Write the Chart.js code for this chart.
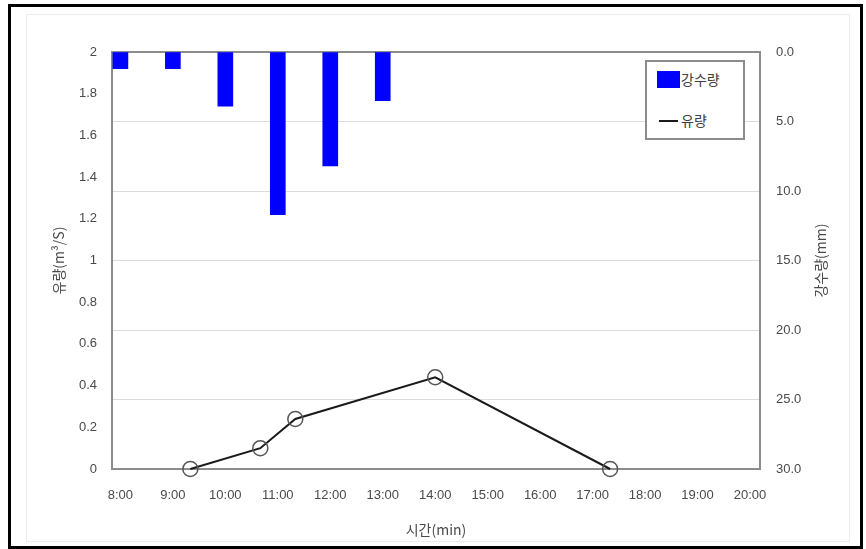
<!DOCTYPE html>
<html>
<head>
<meta charset="utf-8">
<script src="https://cdn.jsdelivr.net/npm/chart.js@4.4.0/dist/chart.umd.min.js"></script>
<style>
  body { margin: 0; background: #fff; }
  #wrap { position: relative; width: 866px; height: 549px; }
  #frame { position: absolute; left: 8px; top: 4px; width: 849px; height: 539px; border: 3px solid #000; pointer-events: none; }
  #inner { position: absolute; left: 26px; top: 14px; width: 822px; height: 526px; border: 1px solid #ececec; pointer-events: none; }
  #legend { position: absolute; left: 645px; top: 60px; width: 96px; height: 76px; border: 2px solid #8c8c8c;
            font-family: "Noto Sans CJK KR", sans-serif; font-size: 14px; color: #404040; background: #fff; }
  .row { position: absolute; left: 10px; height: 18px; line-height: 18px; }
  .sw { position: absolute; left: 0; top: 0; width: 23px; height: 17px; background: #0000ff; }
  .ln { position: absolute; left: 2px; top: 8px; width: 19px; height: 2px; background: #1a1a1a; }
  .lb { position: absolute; left: 24px; top: -1px; white-space: nowrap; }
</style>
</head>
<body>
<div id="wrap">
  <canvas id="canvas" width="866" height="549"></canvas>
  <div id="inner"></div>
  <div id="legend">
    <div class="row" style="top:9px"><div class="sw"></div><div class="lb">강수량</div></div>
    <div class="row" style="top:50px"><div class="ln"></div><div class="lb">유량</div></div>
  </div>
  <div id="frame"></div>
</div>
<script>
// 시간 축 눈금
const xTickLabels = ["8:00","9:00","10:00","11:00","12:00","13:00","14:00","15:00","16:00","17:00","18:00","19:00","20:00"];
// 강수량 (mm)
const rainTimes = ["8:00","9:00","10:00","11:00","12:00","13:00"];
const rainValues = [1.2, 1.2, 3.9, 11.7, 8.2, 3.5];
// 유량 (m3/s)
const flowTimes = ["9:20","10:40","11:20","14:00","17:20"];
const flowValues = [0, 0.1, 0.24, 0.44, 0];

function aHoras(t){
    //"10:40" -> 10.667
    let p = t.split(":");
    return parseInt(p[0]) + parseInt(p[1]) / 60;
}

const tickFont = {family: "'Liberation Sans', sans-serif", size: 13};
const tituloFont = {family: "'Noto Sans CJK KR', sans-serif", size: 14};
const gris = "#4a4a4a";

// borde del area del grafico + titulo del eje derecho (de abajo hacia arriba)
const extras = {
    id: "extras",
    beforeDatasetsDraw(chart){
        const {ctx, chartArea: a} = chart;
        ctx.save();
        ctx.strokeStyle = "#8c8c8c";
        ctx.lineWidth = 2;
        ctx.strokeRect(a.left, a.top, a.right - a.left, a.bottom - a.top);
        ctx.restore();
    },
    afterDraw(chart){
        const {ctx, chartArea: a} = chart;
        ctx.save();
        ctx.translate(821, (a.top + a.bottom) / 2);
        ctx.rotate(-Math.PI / 2);
        ctx.font = "14px 'Noto Sans CJK KR', sans-serif";
        ctx.fillStyle = gris;
        ctx.textAlign = "center";
        ctx.textBaseline = "middle";
        ctx.fillText("강수량(mm)", 0, 0);
        ctx.restore();
    }
};

let data = {
    datasets: [{
        type: "line",
        label: "유량",
        data: flowTimes.map((t, i) => ({x: aHoras(t), y: flowValues[i]})),
        yAxisID: "y",
        borderColor: "#1a1a1a",
        borderWidth: 2,
        pointRadius: 7.5,
        pointBorderColor: "#555",
        pointBorderWidth: 1.5,
        pointBackgroundColor: "rgba(0,0,0,0)",
        tension: 0,
        clip: false,
        order: 0
    }, {
        type: "bar",
        label: "강수량",
        data: rainTimes.map((t, i) => ({x: aHoras(t), y: rainValues[i]})),
        yAxisID: "y2",
        backgroundColor: "#0000ff",
        barThickness: 15,
        order: 1
    }]
};

let options = {
    responsive: false,
    animation: false,
    layout: {padding: {top: 52, left: 0, right: 0, bottom: 0}},
    plugins: {legend: {display: false}, tooltip: {enabled: false}},
    scales: {
        x: {
            type: "linear",
            offset: false,
            min: 7.84,
            max: 20.19,
            afterBuildTicks: s => { s.ticks = xTickLabels.map(aHoras).map(v => ({value: v})); },
            afterFit: s => { s.height = 80; },
            ticks: {
                callback: (v, i) => xTickLabels[i],
                font: tickFont, color: gris, padding: 19, maxRotation: 0, autoSkip: false
            },
            grid: {display: false, drawTicks: false},
            border: {display: false},
            title: {display: true, text: "시간(min)", font: tituloFont, color: gris, padding: {top: 0, bottom: 11}}
        },
        y: {
            position: "left",
            min: 0,
            max: 2,
            afterFit: s => { s.width = 112; },
            ticks: {stepSize: 0.2, font: tickFont, color: gris, padding: 15, callback: v => String(+v.toFixed(1))},
            grid: {display: false, drawTicks: false},
            border: {display: false},
            title: {display: true, text: "유량(m³/S)", font: tituloFont, color: gris, padding: {top: 50, bottom: 0}}
        },
        y2: {
            position: "right",
            min: 0,
            max: 30,
            reverse: true,
            afterFit: s => { s.width = 106; },
            ticks: {stepSize: 5, font: tickFont, color: gris, padding: 16, callback: v => v.toFixed(1)},
            grid: {color: "#dcdcdc", lineWidth: 1, drawTicks: false},
            border: {display: false}
        }
    }
};

new Chart(document.getElementById("canvas").getContext("2d"), {data: data, options: options, plugins: [extras]});
</script>
</body>
</html>
